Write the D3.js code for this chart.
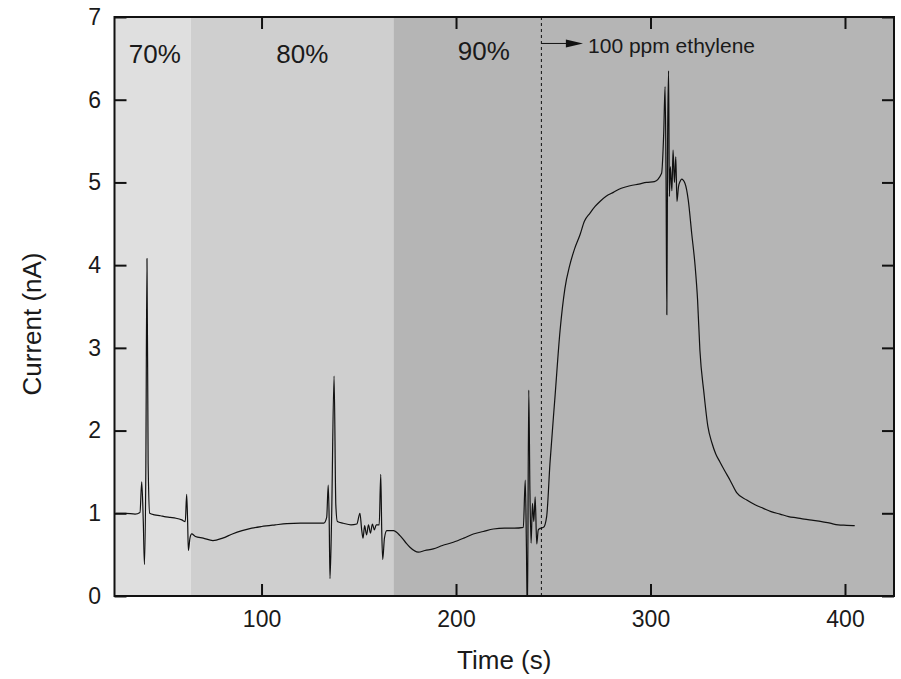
<!DOCTYPE html>
<html>
<head>
<meta charset="utf-8">
<script src="https://cdn.jsdelivr.net/npm/d3@7"></script>
<style>
  body { margin: 0; background: #fff; }
  text { font-family: "Liberation Sans", Arial, sans-serif; fill: #1a1a1a; }
</style>
</head>
<body>
<svg id="chart" width="901" height="679"></svg>
<script>
// time (s) and current (nA)
var time = [25, 30, 35, 37.5, 38.4, 39.2, 39.8, 40.5, 41.1, 41.7, 42.5, 45, 48, 50, 53, 56, 59, 60.8, 61.5, 62.0, 62.4, 63.2, 64.1,
  66, 70, 75, 80, 85, 90, 95, 100, 107, 113, 120, 127, 132, 133.5, 134.3, 134.8, 135.2, 136, 137.3, 138.2, 139,
  142, 146, 149, 150.6, 151.5, 152.2, 153, 154, 155, 156, 157, 158, 159, 160.5, 161.3, 161.8, 162.3, 163.2, 164.4,
  167.8, 171.2, 174, 176.3, 180.6, 184, 188.3, 193, 198.6, 204, 208.9, 214, 219.2, 225, 230, 234.6,
  235.6, 236.2, 236.7, 237.4, 238.0, 238.6, 239.3, 240.0, 240.7, 241.5, 242.3, 243.5, 245, 246.6,
  248.3, 250.9, 253.5, 256, 258.5, 261, 263.8, 266, 268.9, 271.5, 274, 277, 280.9, 285, 289.5, 294, 298, 302, 305.7,
  306.8, 307.5, 308, 308.4, 308.8, 309.3, 309.7, 310.2, 311, 311.6, 312.3, 313, 313.6, 314.4, 315.2, 316, 317.7, 319.4,
  321.2, 322.9, 324.2, 325.4, 327.5, 329.5, 331.6, 333.5, 335.7, 338, 340.9, 344.3, 349.5, 354, 358, 362, 366.6,
  371, 375.2, 379, 383.7, 388, 392.3, 396.5, 400.9, 405, 409.1];
var current = [1.00, 1.00, 0.99, 1.01, 1.38, 0.9, 0.38, 1.5, 4.08, 1.6, 1.00, 0.98, 0.97, 0.96, 0.95, 0.94, 0.92, 0.90, 1.23, 0.9, 0.55, 0.70, 0.75,
  0.72, 0.70, 0.67, 0.70, 0.75, 0.79, 0.82, 0.84, 0.86, 0.875, 0.88, 0.88, 0.88, 0.95, 1.34, 0.9, 0.21, 0.9, 2.66, 1.1, 0.9,
  0.88, 0.86, 0.87, 1.0, 0.80, 0.70, 0.85, 0.74, 0.86, 0.76, 0.87, 0.80, 0.86, 0.86, 1.47, 0.8, 0.44, 0.7, 0.79,
  0.79, 0.73, 0.65, 0.59, 0.53, 0.55, 0.57, 0.61, 0.65, 0.70, 0.75, 0.78, 0.81, 0.82, 0.82, 0.83,
  1.4, 0.6, -0.3, 2.49, 1.27, 0.64, 1.12, 0.9, 1.2, 0.63, 0.8, 0.82, 0.83,
  0.96, 1.6, 2.41, 3.21, 3.72, 4.0, 4.2, 4.37, 4.53, 4.63, 4.71, 4.77, 4.83, 4.88, 4.93, 4.96, 4.98, 5.00, 5.01,
  5.11, 5.6, 6.16, 5.0, 3.4, 5.5, 6.35, 4.83, 5.19, 4.9, 5.39, 5.0, 5.31, 4.77, 4.95, 5.01, 5.04, 4.99,
  4.79, 4.38, 4.0, 3.58, 2.97, 2.45, 2.05, 1.85, 1.72, 1.62, 1.52, 1.40, 1.25, 1.16, 1.10, 1.06, 1.02,
  0.99, 0.96, 0.945, 0.93, 0.915, 0.90, 0.88, 0.86, 0.855, 0.85];

// humidity bands: label, start, end (s)
var bandLabels = ["70%", "80%", "90%"];
var bandStart = [24.4, 63.6, 167.8];
var bandEnd = [63.6, 167.8, 425.2];
var bandLabelX = [45.1, 121, 214.3];
var bandFill = ["#dfdfdf", "#cfcfcf", "#b5b5b5"];

var xTicks = [100, 200, 300, 400];
var yTicks = [0, 1, 2, 3, 4, 5, 6, 7];

var gasOn = 243.9;
var gasLabel = "100 ppm ethylene";

var margin = { top: 17, right: 7, bottom: 83, left: 114.5 };
var width = 901 - margin.left - margin.right;
var height = 679 - margin.top - margin.bottom;

var svg = d3.select("#chart");
var g = svg.append("g").attr("transform", `translate(${margin.left},${margin.top})`);

var x = d3.scaleLinear().domain([24.4, 425.2]).range([0, width]);
var y = d3.scaleLinear().domain([0, 7]).range([height, 0]);

g.append("defs").append("clipPath").attr("id", "clip")
  .append("rect").attr("width", width).attr("height", height);

// bands
g.selectAll("rect.band")
  .data(bandLabels)
  .enter().append("rect")
    .attr("class", "band")
    .attr("x", (d, i) => x(bandStart[i]))
    .attr("width", (d, i) => x(bandEnd[i]) - x(bandStart[i]))
    .attr("y", 0)
    .attr("height", height)
    .attr("fill", (d, i) => bandFill[i]);

g.selectAll("text.band")
  .data(bandLabels)
  .enter().append("text")
    .attr("class", "band")
    .attr("x", (d, i) => x(bandLabelX[i]))
    .attr("y", (d, i) => i == 2 ? 43 : 45.5)
    .attr("text-anchor", "middle")
    .style("font-size", "26px")
    .text(d => d);

// gas-on marker
g.append("line")
  .attr("x1", x(gasOn)).attr("x2", x(gasOn))
  .attr("y1", 0).attr("y2", height)
  .attr("stroke", "#111")
  .attr("stroke-width", 1)
  .attr("stroke-dasharray", "3,3");

var arrowY = y(6.68);
g.append("line")
  .attr("x1", x(gasOn)).attr("x2", x(257))
  .attr("y1", arrowY).attr("y2", arrowY)
  .attr("stroke", "#111").attr("stroke-width", 1);
g.append("path")
  .attr("d", `M${x(256.5)},${arrowY - 4}L${x(265.3)},${arrowY}L${x(256.5)},${arrowY + 4}Z`)
  .attr("fill", "#111");
g.append("text")
  .attr("x", x(267.9))
  .attr("y", y(6.56))
  .style("font-size", "21px")
  .text(gasLabel);

// trace
var line = d3.line()
  .x((d, i) => x(time[i]))
  .y(d => y(d))
  .curve(d3.curveMonotoneX);

g.append("path")
  .datum(current)
  .attr("clip-path", "url(#clip)")
  .attr("fill", "none")
  .attr("stroke", "#111")
  .attr("stroke-width", 1.2)
  .attr("stroke-linejoin", "round")
  .attr("d", line);

// axes
function styleAxis(sel) {
  sel.select(".domain").remove();
  sel.selectAll(".tick line").attr("stroke", "#111").attr("stroke-width", 2);
  sel.selectAll(".tick text").style("font-size", "23px").attr("fill", "#1a1a1a");
}

g.append("g").attr("transform", `translate(0,${height})`)
  .call(d3.axisBottom(x).tickValues(xTicks).tickSizeInner(-12).tickSizeOuter(0).tickPadding(15))
  .call(styleAxis);
g.append("g")
  .call(d3.axisTop(x).tickValues(xTicks).tickSizeInner(-12).tickSizeOuter(0).tickFormat(""))
  .call(styleAxis);
g.append("g")
  .call(d3.axisLeft(y).tickValues(yTicks).tickFormat(d3.format("d")).tickSizeInner(-12).tickSizeOuter(0).tickPadding(13.5))
  .call(styleAxis);
g.append("g").attr("transform", `translate(${width},0)`)
  .call(d3.axisRight(y).tickValues(yTicks).tickSizeInner(-12).tickSizeOuter(0).tickFormat(""))
  .call(styleAxis);

g.append("rect")
  .attr("width", width).attr("height", height)
  .attr("fill", "none").attr("stroke", "#111").attr("stroke-width", 2);

// titles
svg.append("text")
  .attr("x", margin.left + width / 2)
  .attr("y", 669)
  .attr("text-anchor", "middle")
  .style("font-size", "26px")
  .text("Time (s)");

svg.append("text")
  .attr("transform", "translate(41,324) rotate(-90)")
  .attr("text-anchor", "middle")
  .style("font-size", "26px")
  .text("Current (nA)");
</script>
</body>
</html>
